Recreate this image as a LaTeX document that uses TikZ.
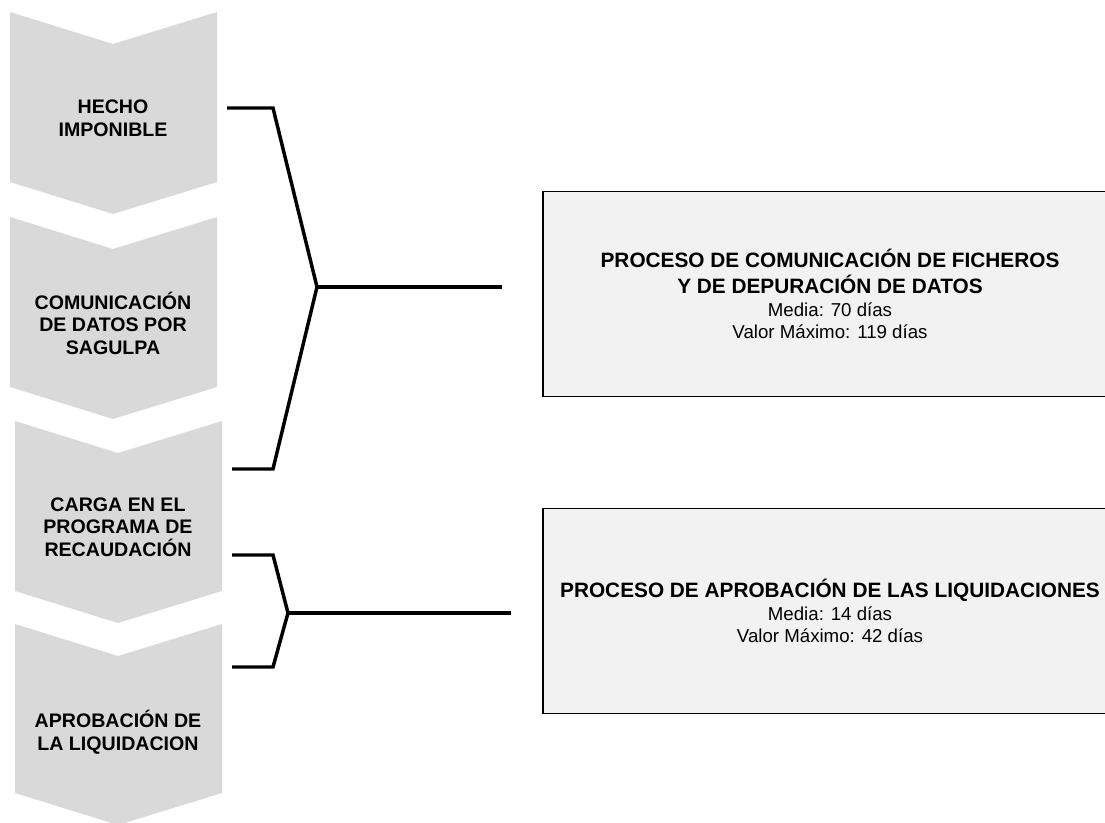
\documentclass[tikz,border=0pt]{standalone}
\usepackage{fontspec}
\setmainfont{Liberation Sans}

\tikzset{every picture/.style={line width=0.75pt}}
\tikzset{
  chevshape/.style={fill={rgb, 255:red, 217; green, 217; blue, 217 }, draw=none},
  chevtext/.style={align=center, font=\fontsize{14.7}{16.9}\selectfont\bfseries},
  procbox/.style={draw={rgb, 255:red, 0; green, 0; blue, 0 }, line width=1.1pt, fill={rgb, 255:red, 242; green, 242; blue, 242 }, minimum width=430.5pt, minimum height=153.5pt, align=center, font=\fontsize{14}{17}\selectfont},
  bracketline/.style={line width=2.6pt, line join=miter},
}
\newcommand{\proctitle}[1]{{\fontsize{15.6}{19.5}\selectfont\bfseries #1}}

\begin{document}
\begin{tikzpicture}[x=0.75pt,y=0.75pt,yscale=-1,xscale=1]
		\useasboundingbox (0,0) rectangle (1105,823);
		
		%Shape: Chevron [id:hecho]
		\path [chevshape] (10,12) -- (113,44) -- (217,12) -- (217,182) -- (113,214) -- (10,182) -- cycle ;
		%Shape: Chevron [id:comun]
		\path [chevshape] (10,217) -- (113,249) -- (217,217) -- (217,387) -- (113,419) -- (10,387) -- cycle ;
		%Shape: Chevron [id:carga]
		\path [chevshape] (15,421) -- (118,453) -- (222,421) -- (222,591) -- (118,623) -- (15,591) -- cycle ;
		%Shape: Chevron [id:aprob]
		\path [chevshape] (15,624) -- (118,656) -- (222,624) -- (222,793) -- (118,825) -- (15,793) -- cycle ;
		
		% Text Node
		\node [chevtext] (hecho) at (113,118) {HECHO\\IMPONIBLE};
		% Text Node
		\node [chevtext] (comun) at (113,323) {COMUNICACIÓN\\DE DATOS POR\\SAGULPA};
		% Text Node
		\node [chevtext] (carga) at (118,527) {CARGA EN EL\\PROGRAMA DE\\RECAUDACIÓN};
		% Text Node
		\node [chevtext] (aprob) at (118,732) {APROBACIÓN DE\\LA LIQUIDACION};
		
		%Shape: Rectangle [id:proccom]
		\node [procbox] (proccom) at (830,294) {\proctitle{PROCESO DE COMUNICACIÓN DE FICHEROS}\\[2.5pt]\proctitle{Y DE DEPURACIÓN DE DATOS}\\Media: 70 días\\Valor Máximo: 119 días};
		%Shape: Rectangle [id:procapr]
		\node [procbox] (procapr) at (830,611) {\proctitle{PROCESO DE APROBACIÓN DE LAS LIQUIDACIONES}\\Media: 14 días\\Valor Máximo: 42 días};
		
		%Bracket ends
		\coordinate (hechoend) at (227,108);
		\coordinate (hechokink) at (273,108);
		\coordinate (cargaend) at (232,469);
		\coordinate (cargakink) at (273,469);
		\coordinate (comtip) at (317,287);
		\coordinate (comend) at (502,287);
		\coordinate (cargaend2) at (232,555);
		\coordinate (cargakink2) at (273,555);
		\coordinate (aprobend) at (232,667);
		\coordinate (aprobkink) at (273,667);
		\coordinate (aprtip) at (288,613);
		\coordinate (aprend) at (511,613);
		
		%Straight Lines [id:bracketcom]
		\draw [bracketline] (hechoend) -- (hechokink) -- (comtip) -- (cargakink) -- (cargaend) ;
		\draw [bracketline] (comtip) -- (comend) ;
		%Straight Lines [id:bracketapr]
		\draw [bracketline] (cargaend2) -- (cargakink2) -- (aprtip) -- (aprobkink) -- (aprobend) ;
		\draw [bracketline] (aprtip) -- (aprend) ;
		
		\end{tikzpicture}
\end{document}
